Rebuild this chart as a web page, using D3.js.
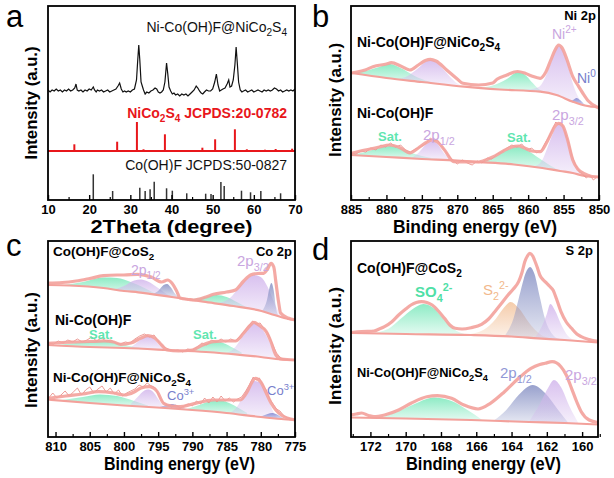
<!DOCTYPE html>
<html><head><meta charset="utf-8">
<script src="https://cdn.jsdelivr.net/npm/d3@7"></script>
<style>body{margin:0;background:#fff}svg{display:block}text{font-family:"Liberation Sans",Arial,sans-serif}</style>
</head><body><svg id="c" width="614" height="478"></svg>
<script>
// ---------------- Panel a : XRD ----------------
const aTicks = [10,20,30,40,50,60,70];
const aMinor = [15,25,35,45,55,65];
const xrdSample = [[10,110],[10.5,108],[11,110],[11.5,109],[12,111],[12.5,109],[13,110],[13.5,108],[14,110],[14.5,109],[15,111],[15.5,109],[16,110],[16.5,112],[16.8,116],[17.1,110],[17.5,109],[18,110],[18.5,108],[19,110],[19.5,109],[20,111],[20.5,110],[21,113],[21.3,110],[21.7,108],[22,110],[22.5,109],[23,110],[23.5,108],[24,109],[24.5,110],[25,108],[25.5,109],[26,110],[26.5,111],[27,114],[27.4,117],[27.8,111],[28.2,108],[28.6,109],[29,108],[29.5,109],[30,108],[30.5,110],[31,111],[31.5,120],[31.8,140],[32.05,155],[32.3,140],[32.6,118],[32.9,114],[33.2,110],[33.6,106],[34,108],[34.5,107],[35,109],[35.5,110],[36,112],[36.4,111],[36.8,108],[37.2,107],[37.6,108],[38,110],[38.4,118],[38.8,137],[39.1,126],[39.4,113],[39.8,109],[40.2,106],[40.6,107],[41,105],[41.5,106],[42,104],[42.5,106],[43,105],[43.5,106],[44,104],[44.5,106],[45,108],[45.5,110],[46,114],[46.4,112],[46.8,109],[47.2,107],[47.6,106],[48,108],[48.5,110],[49,109],[49.5,109],[50,111],[50.5,118],[50.9,126],[51.3,115],[51.7,109],[52.1,110],[52.5,111],[53,112],[53.5,116],[53.9,120],[54.2,113],[54.6,114],[55,120],[55.4,135],[55.7,153],[56,136],[56.3,118],[56.7,110],[57.1,108],[57.5,109],[58,110],[58.5,108],[59,109],[59.5,110],[60,108],[60.5,109],[61,110],[61.5,109],[62,108],[62.5,110],[63,109],[63.5,110],[64,109],[64.5,110],[65,112],[65.5,111],[66,109],[66.5,110],[67,108],[67.5,109],[68,110],[68.5,109],[69,110],[69.5,109],[70,111]];
const ncsOffset = 49;
const ncsTheta = [16.4,26.8,31.6,33.2,38.4,47.5,50.6,55.4,58.3,62.7,65.3,69.3];
const ncsInt   = [6.7,9.3,29,1.7,16.7,3.3,11.7,21.7,1.7,1.3,2,2.3];
const cohTheta = [21.0,25.7,32.3,33.6,34.8,35.8,38.8,40.2,43.7,48.3,49.6,52.0,52.8,57.0,59.2,61.7,66.5];
const cohInt   = [25.7,9,12.3,9,10.7,18.3,11.7,9.3,6.7,6.3,6,18,14,9.3,7.7,9,6.7];

// ---------------- Panel b : Ni 2p ----------------
const bTicks = [885,880,875,870,865,860,855,850];
const bMinor = [882.5,877.5,872.5,867.5,862.5,857.5,852.5];
const bTopBg  = [[885,127],[880,122],[875,118],[869,113.3],[864,110.5],[858.3,108.3],[856,105],[853.7,98.3],[852,94.5],[850.3,93],[850,93]];
const bTopEnv = [[885,127],[883,130],[881.9,133.3],[880,136],[879.3,137.3],[878,134],[876.7,130],[875.5,135],[874.5,139.5],[873.8,140.7],[873,139],[871.5,130],[870,121],[869.2,116.7],[867,115],[865,117],[864.4,120.7],[863,125],[861.5,128.5],[860.5,127],[859.5,124],[858.3,121.7],[857.5,128],[856.8,140],[856.2,150],[855.7,155],[855.2,152],[854.5,140],[853.7,123.3],[853,115],[852.3,107],[851.5,99],[850.3,93],[850,92]];
const bTopSat1 = [[885,127],[883,129],[881,133],[879.5,136],[878,132],[876,124],[874,118.5],[872.5,116.5]];
const bTopP12  = [[878.5,120],[877,124],[875.5,132],[874.5,138],[873.8,140],[873,138],[872,131],[871,123],[870,116.5],[869,113.3]];
const bTopSat2 = [[867,112],[865,114.5],[863,121],[861.5,127.5],[860.5,125.5],[859.5,118],[858.5,111],[857.5,107.5]];
const bTopNi2  = [[862,109.8],[860,110.5],[858.5,113],[857.5,124],[856.8,137],[856.2,149],[855.7,154],[855.2,151],[854.5,138],[853.8,119],[853,104],[852,95],[851,93]];
const bTopNi0  = [[854.5,100],[853.8,99.5],[853.2,102],[852.6,99.5],[852,95.5],[851.5,94]];
const bBotBg  = [[885,45],[880,43],[875,41],[870,39.5],[867.8,38.3],[862,35.5],[858,32],[855.5,29],[853.7,27],[852,24],[850,23]];
const bBotEnv = [[885,46.7],[883,50],[881,53],[879.6,55],[878,52],[876.7,47],[875.5,52],[874.5,57],[873.6,60],[872.8,58],[871.8,50],[870.5,38.3],[869,38],[867,38],[866.4,39],[865,43],[863.5,49],[862.3,53],[861.4,54],[860.5,52],[859.5,49],[858.3,48.3],[857.5,56],[856.8,66],[856.2,74],[855.7,76.7],[855.1,74],[854.5,62],[853.7,40],[853,31],[852,26],[851,23.5],[850,23]];
const bBotRaw = [[885,47],[884.3,46],[883.6,49],[882.9,48],[882.2,52],[881.5,50],[880.8,55],[880.1,53],[879.4,57],[878.7,53],[878,55],[877.3,50],[876.6,48],[875.9,51],[875.2,53],[874.5,56],[873.8,62],[873.3,59],[872.8,60],[872.1,53],[871.4,46],[870.7,40],[870,36],[869.3,40],[868.6,37],[867.9,35],[867.2,39],[866.5,37],[865.8,42],[865.1,41],[864.4,46],[863.7,48],[863,52],[862.3,55],[861.6,53],[860.9,56],[860.2,50],[859.5,52],[858.8,47],[858.1,50],[857.6,57],[857.1,63],[856.6,70],[856.1,78],[855.7,75],[855.3,78],[854.8,68],[854.3,58],[853.8,44],[853.3,35],[852.8,29],[852.3,26],[851.8,22],[851.3,25],[850.8,20],[850.3,23],[850,22]];
const bBotSat1 = [[885,45.5],[883,48],[881,52],[879.5,54],[878,51.5],[876,46],[874,42.5],[872.5,40.5]];
const bBotP12  = [[876.5,42],[875.5,47],[874.5,55],[873.6,59],[872.8,56],[872,48],[871,41],[870,39.3]];
const bBotSat2 = [[867.5,38.3],[865.5,41],[863.5,48],[862,52.5],[861.3,53],[860,49],[858.5,42],[857,35],[856,31]];
const bBotP32  = [[859,34],[858,40],[857.3,52],[856.6,65],[856,74],[855.6,76],[855.1,73],[854.5,61],[853.8,42],[853,30],[852,25]];

// ---------------- Panel c : Co 2p ----------------
const cTicks = [810,805,800,795,790,785,780,775];
const cMinor = [807.5,802.5,797.5,792.5,787.5,782.5,777.5];
const cTopBg  = [[811.1,152],[808,151.5],[803,149],[800,146],[797.9,144.7],[793,140],[788.4,135.3],[784,131],[779.9,126],[778,122],[776,118],[775,117]];
const cTopEnv = [[811.1,154],[809,154.5],[807,156],[805,158.5],[803,161.3],[801,162],[800,162],[798,162.7],[796,160],[794.5,155],[793.6,157],[793,154],[792.3,146],[791.8,139],[790.5,137.5],[789.8,137],[788,140],[786.9,142.7],[785,145],[783.7,147],[782.5,156],[781.5,162],[780.5,163.5],[779.6,163.7],[779,168],[778.5,173.7],[778.1,170],[777.8,155.3],[777.4,135],[777.1,124],[776,119],[775,117]];
const cTopSat1 = [[809,151.7],[806,155],[803,159.5],[801,159],[799,155],[797,149],[795,142]];
const cTopP12  = [[801.5,147.5],[800,151],[798.5,156.5],[797.5,157.5],[796.5,155.5],[795,149],[793.5,142],[792.5,139.5]];
const cTopS1   = [[795.8,143],[795,146],[794.2,152],[793.7,153],[793.2,150],[792.5,143],[791.8,139]];
const cTopSat2 = [[790.5,137.5],[788.5,139.5],[786.5,142],[785,140],[783.5,135],[782,129.5]];
const cTopP32  = [[786.5,133.5],[784.5,139],[783,151],[781.8,159.5],[781,162],[780,160],[779,150],[778,134],[777,120]];
const cTopS2   = [[779.8,126],[779.1,137],[778.7,150],[778.45,154],[778.1,146],[777.8,130],[777.4,121]];
const cMidBg  = [[811.1,92],[805,90],[800,89],[793.7,87],[788,85],[783.7,82.7],[780,80],[777,77.5],[775,77]];
const cMidEnv = [[811.1,93.7],[809,94.5],[807,95],[805,95.5],[802.9,96],[801.5,95],[800.5,92.7],[799,94],[797.5,99],[796.5,101.3],[795.5,99],[794.5,92],[793.7,87],[792,86],[790,87],[788.5,92],[786.9,95.3],[785,96],[783.7,96],[782.5,104],[781.5,112],[781,114.7],[780.3,112],[779.2,105.3],[778.5,95],[777.8,82],[777,78],[775,77]];
const cMidRaw = [[811,94],[810.3,93],[809.6,96],[808.9,94],[808.2,97],[807.5,95],[806.8,98],[806.1,95],[805.4,97],[804.7,100],[804,96],[803.3,99],[802.6,96],[801.9,97],[801.2,94],[800.5,93],[799.8,95],[799.1,94],[798.4,98],[797.7,101],[797,103],[796.3,100],[795.6,102],[794.9,95],[794.2,90],[793.5,88],[792.8,86],[792.1,87],[791.4,85],[790.7,88],[790,87],[789.3,90],[788.6,94],[787.9,92],[787.2,97],[786.5,95],[785.8,98],[785.1,95],[784.4,98],[783.7,96],[783,101],[782.4,106],[781.8,111],[781.2,116],[780.7,113],[780.1,114],[779.5,108],[778.9,103],[778.3,93],[777.7,84],[777.1,79],[776.5,78],[775.8,77],[775,77]];
const cMidSat1 = [[810,91.8],[807,94],[804,96],[802.5,96.5],[800.5,93],[798.5,90],[797,88.5]];
const cMidP12  = [[799,89.5],[798,95],[797,100],[796.4,101],[795.7,99],[795,93],[794,88],[793.5,87]];
const cMidSat2 = [[790.5,86],[789,90],[787.5,94.5],[786.5,96],[785.5,94],[784,89],[782.8,84.5]];
const cMidP32  = [[785,84],[784,88],[783,97],[782,108],[781.2,114],[780.5,113],[779.5,105],[778.5,92],[777.5,79]];
const cBotBg  = [[811.1,37.5],[805,34],[800,31.5],[794,29],[790,27],[785,24],[780,20],[777,18],[775,17]];
const cBotEnv = [[811.1,38.7],[808.5,41],[806,43],[803.7,45.3],[801.5,44],[800,42],[798.5,45],[797.5,49],[796.3,50.3],[795.2,46],[794.2,33.7],[793,31],[791.8,30.3],[790,33],[788,36],[786.9,37],[785,37],[783,37],[782,45],[781.2,56],[780.8,58.7],[780,55],[779.2,44],[778.5,34],[777.8,27],[777,22],[775,17]];
const cBotRaw = [[811,39],[810.4,44],[809.8,39],[809.2,42],[808.6,46],[808,41],[807.4,45],[806.8,49],[806.2,42],[805.6,47],[805,50],[804.4,44],[803.8,48],[803.2,51],[802.6,45],[802,49],[801.4,43],[800.8,47],[800.2,41],[799.6,44],[799,46],[798.4,48],[797.8,52],[797.2,50],[796.6,54],[796,51],[795.4,49],[794.8,40],[794.2,34],[793.6,32],[793,30],[792.4,32],[791.8,29],[791.2,31],[790.6,33],[790,31],[789.4,36],[788.8,33],[788.2,39],[787.6,34],[787,40],[786.4,35],[785.8,41],[785.2,36],[784.6,39],[784,35],[783.4,38],[782.8,40],[782.2,46],[781.6,53],[781.1,60],[780.7,57],[780.2,59],[779.7,52],[779.2,47],[778.7,38],[778.2,33],[777.7,28],[777.2,26],[776.6,21],[776,19],[775.4,18],[775,17]];
const cBotSat1 = [[809,37],[806,40],[803.5,42.5],[801,41],[798.5,36],[796.5,31.5]];
const cBotP12  = [[799,33],[798,40],[797,46.5],[796.5,47.5],[795.8,45.5],[795,38],[794.2,30]];
const cBotCo3a = [[795,29.5],[794,31.5],[793,33],[792,31],[791,28]];
const cBotSat2 = [[791,27.5],[789,32],[787,36.5],[786.2,37],[785,35],[783.5,30],[782,24]];
const cBotP32  = [[784.5,24],[783.5,30],[782.5,42],[781.5,53],[781,56],[780.3,55],[779.5,47],[778.7,34],[778,23],[777.5,19]];
const cBotCo3b = [[780,20.5],[779,23],[778.3,24],[777.5,22],[776.5,17.8]];

// ---------------- Panel d : S 2p ----------------
const dTicks = [172,170,168,166,164,162,160];
const dMinor = [173,171,169,167,165,163,161,159];
const dTopBg  = [[173.1,104],[170,103],[166.3,102],[164,100.5],[162.5,98.7],[161,97],[159.1,94.5]];
const dTopEnv = [[173.1,104.5],[172.5,105.5],[171.8,106],[171.5,108],[171.2,110.3],[170.8,115],[170.4,122],[170,128],[169.7,132],[169.4,134.5],[169.1,135.3],[168.8,134.5],[168.5,132],[168.1,125],[167.8,118.7],[167.5,112],[167.2,108.7],[166.8,108],[166.3,109.3],[165.7,112.7],[165.3,118],[164.95,125.3],[164.6,133],[164.2,142],[163.9,148],[163.6,155.3],[163.4,165],[163.25,175.3],[163.1,181],[162.96,183.7],[162.8,181],[162.7,177],[162.55,170],[162.4,162],[162.2,157],[162.0,153.7],[161.8,150],[161.65,147],[161.45,138],[161.2,125.3],[160.9,115],[160.6,108.7],[160.3,103],[160.05,100.3],[159.6,97.5],[159.1,95.5]];
const dTopSO4 = [[172,103.8],[171,108],[170.3,118],[169.6,128],[169,133],[168.5,130],[167.8,117],[167.2,107],[166.5,102.3]];
const dTopS2  = [[166.6,102.3],[165.6,107],[164.9,118],[164.4,130],[164.05,135],[163.6,129],[163,114],[162.4,103],[161.8,98.5]];
const dTopP12 = [[164.4,101],[163.9,118],[163.5,145],[163.2,164],[162.95,170],[162.7,163],[162.4,140],[162.1,118],[161.7,103],[161.3,98]];
const dTopP32 = [[162.7,99],[162.3,110],[162,123],[161.8,133],[161.55,127],[161.2,113],[160.8,101],[160.4,97]];
const dBotBg  = [[173.1,19.5],[170,18.5],[166.3,17],[163,15],[161,14],[159.1,12.5]];
const dBotEnv = [[173.1,22],[172.8,23],[172.5,24],[172.1,21.5],[171.8,20.3],[171.2,22],[170.4,27],[169.7,33.7],[168.8,40.3],[168.2,41.3],[167.4,38.7],[166.7,32],[165.9,28],[165.2,33.7],[164.4,45.3],[163.6,58.7],[162.9,68.7],[162.4,72.5],[162.1,73.7],[161.7,75.3],[161.2,70.3],[160.9,62],[160.6,48.7],[160.3,35],[160.05,25.3],[159.6,17],[159.1,14.5]];
const dBotSO4 = [[171.5,19],[170.5,25],[169.5,33],[168.4,39.5],[167.4,36],[166.5,27],[165.7,17.5]];
const dBotP12 = [[165,16.5],[164.3,27],[163.6,42],[162.8,52],[162.1,44],[161.4,28],[160.8,14.5]];
const dBotP32 = [[163,15.5],[162.4,33],[161.9,50],[161.6,57],[161.2,50],[160.7,30],[160.2,13.5]];

// ---------------- drawing ----------------
const svg = d3.select("#c");
const defs = svg.append("defs");
const COL = {green:"#7ae8bb", purple:"#d2b6ec", blue:"#7c84d0", slate:"#8690c4", orange:"#f3c39c"};
Object.entries(COL).forEach(([k,c])=>{
  const lg = defs.append("linearGradient").attr("id","g-"+k).attr("x1",0).attr("y1",0).attr("x2",0).attr("y2",1);
  lg.append("stop").attr("offset","0%").attr("stop-color",c).attr("stop-opacity",0.85);
  lg.append("stop").attr("offset","100%").attr("stop-color",c).attr("stop-opacity",0.2);
});
const ENV = "#f3a19b", RAW = "#e98a84";

function rich(g, x, y, str, o) {
  const size = o.size || 14;
  const t = g.append("text").attr("x",x).attr("y",y).attr("font-size",size)
    .attr("font-weight",o.weight||"bold").attr("fill",o.fill||"#000").attr("text-anchor",o.anchor||"start");
  const parts = str.split(/([_^]\{[^}]*\})/).filter(s=>s.length);
  let shift = 0;
  parts.forEach(p=>{
    let s=p, dy=0, fs=size;
    if (p.startsWith("_{")) { s=p.slice(2,-1); dy=size*0.3; fs=size*0.72; }
    else if (p.startsWith("^{")) { s=p.slice(2,-1); dy=-size*0.42; fs=size*0.72; }
    t.append("tspan").attr("dy", dy - shift).attr("font-size", fs).text(s);
    shift = dy;
  });
  return t;
}

let clipN = 0;
function makePanel(c) {
  const x = d3.scaleLinear().domain(c.dom).range([c.x0,c.x1]);
  const y = d3.scaleLinear().domain([0,c.y1-c.y0]).range([c.y1,c.y0]);
  const g = svg.append("g");
  const id = "clip"+(clipN++);
  defs.append("clipPath").attr("id",id).append("rect").attr("x",c.x0).attr("y",c.y0).attr("width",c.x1-c.x0).attr("height",c.y1-c.y0);
  const plot = g.append("g").attr("clip-path",`url(#${id})`);
  return {x,y,g,plot,c};
}
function finishPanel(P, ticks, minor, title, titleLen, ytitleY, ytitleX, ylen, letter, lx, ly) {
  const {x,g,c} = P;
  const ax = g.append("g").attr("transform",`translate(0,${c.y1})`)
    .call(d3.axisBottom(x).tickValues(ticks).tickSize(-5).tickPadding(5).tickFormat(d3.format("d")));
  ax.select(".domain").remove();
  ax.selectAll("line").attr("stroke","#000").attr("stroke-width",1.4);
  ax.selectAll("text").attr("font-size",13).attr("font-weight","bold").attr("fill","#000")
    .attr("font-family",'"Liberation Sans",Arial,sans-serif');
  const mx = g.append("g").attr("transform",`translate(0,${c.y1})`)
    .call(d3.axisBottom(x).tickValues(minor).tickSize(-3).tickFormat(""));
  mx.select(".domain").remove();
  mx.selectAll("text").remove();
  mx.selectAll("line").attr("stroke","#000").attr("stroke-width",1.2);
  g.append("rect").attr("x",c.x0).attr("y",c.y0).attr("width",c.x1-c.x0).attr("height",c.y1-c.y0)
    .attr("fill","none").attr("stroke","#000").attr("stroke-width",1.8);
  g.append("text").attr("x",(c.x0+c.x1)/2 + (c.tdx||0)).attr("y",c.y1+33).attr("text-anchor","middle")
    .attr("font-size",17.5).attr("font-weight","bold").attr("textLength",titleLen).attr("lengthAdjust","spacingAndGlyphs").text(title);
  g.append("text").attr("transform",`translate(${ytitleX},${ytitleY}) rotate(-90)`).attr("text-anchor","middle")
    .attr("font-size",17).attr("font-weight","bold").attr("textLength",ylen).attr("lengthAdjust","spacingAndGlyphs").text("Intensity (a.u.)");
  g.append("text").attr("x",lx).attr("y",ly).attr("font-size",31).text(letter);
}
function lineGen(P, curve) {
  return d3.line().x(d=>P.x(d[0])).y(d=>P.y(d[1])).curve(curve||d3.curveMonotoneX);
}
function spectrum(P, bg, comps, env, raw) {
  const bgAt = d3.scaleLinear().domain(bg.map(d=>d[0])).range(bg.map(d=>d[1])).clamp(true);
  comps.forEach(([pts,col])=>{
    const area = d3.area().x(d=>P.x(d[0])).y0(d=>P.y(bgAt(d[0]))).y1(d=>P.y(Math.max(d[1],bgAt(d[0])))).curve(d3.curveMonotoneX);
    P.plot.append("path").attr("d",area(pts)).attr("fill",`url(#g-${col})`).attr("stroke","none");
  });
  P.plot.append("path").attr("d",lineGen(P)(bg)).attr("fill","none").attr("stroke",ENV).attr("stroke-width",2.2);
  if (raw) P.plot.append("path").attr("d",lineGen(P,d3.curveLinear)(raw)).attr("fill","none").attr("stroke",RAW).attr("stroke-width",1).attr("opacity",0.85);
  P.plot.append("path").attr("d",lineGen(P)(env)).attr("fill","none").attr("stroke",ENV).attr("stroke-width",3.2).attr("opacity",0.9);
}

// ---- Panel a
const A = makePanel({x0:48,x1:295,y0:6,y1:200,dom:[10,70]});
A.plot.append("path").attr("d",lineGen(A,d3.curveLinear)(xrdSample)).attr("fill","none").attr("stroke","#111").attr("stroke-width",1.2);
A.plot.append("line").attr("x1",A.x(10)).attr("x2",A.x(70)).attr("y1",A.y(ncsOffset)).attr("y2",A.y(ncsOffset)).attr("stroke","#e8161b").attr("stroke-width",2);
A.plot.selectAll(".ncs").data(ncsTheta.map((t,i)=>[t,ncsInt[i]])).join("line")
  .attr("x1",d=>A.x(d[0])).attr("x2",d=>A.x(d[0])).attr("y1",A.y(ncsOffset)).attr("y2",d=>A.y(ncsOffset+d[1]))
  .attr("stroke","#e8161b").attr("stroke-width",2);
A.plot.selectAll(".coh").data(cohTheta.map((t,i)=>[t,cohInt[i]])).join("line")
  .attr("x1",d=>A.x(d[0])).attr("x2",d=>A.x(d[0])).attr("y1",A.y(0)).attr("y2",d=>A.y(d[1]))
  .attr("stroke","#333").attr("stroke-width",1.5);
rich(A.g,287,32,"Ni-Co(OH)F@NiCo_{2}S_{4}",{size:14,weight:"normal",fill:"#111",anchor:"end"});
rich(A.g,287,118,"NiCo_{2}S_{4} JCPDS:20-0782",{size:14,weight:"bold",fill:"#e8161b",anchor:"end"});
rich(A.g,287,170,"Co(OH)F JCPDS:50-0827",{size:14,weight:"normal",fill:"#111",anchor:"end"});
finishPanel(A,aTicks,aMinor,"2Theta (degree)",162,103,36.5,113,"a",6,27);

// ---- Panel b
const B = makePanel({x0:351,x1:599,y0:6,y1:200,dom:[885,850]});
spectrum(B,bTopBg,[[bTopSat1,"green"],[bTopSat2,"green"],[bTopP12,"purple"],[bTopNi2,"purple"],[bTopNi0,"blue"]],bTopEnv);
spectrum(B,bBotBg,[[bBotSat1,"green"],[bBotSat2,"green"],[bBotP12,"purple"],[bBotP32,"purple"]],bBotEnv,bBotRaw);
const LAV="#c9a6e0", GRN="#5fe6b0", BLU="#7880cc";
rich(B.g,596,20,"Ni 2p",{size:13,anchor:"end"});
rich(B.g,357,47,"Ni-Co(OH)F@NiCo_{2}S_{4}",{size:14});
rich(B.g,552,39,"Ni^{2+}",{size:14,fill:LAV,weight:"normal"});
rich(B.g,577,83,"Ni^{0}",{size:14,fill:BLU,weight:"normal"});
rich(B.g,357,118,"Ni-Co(OH)F",{size:14});
rich(B.g,552,120,"2p_{3/2}",{size:15,fill:LAV,weight:"normal"});
rich(B.g,378,141,"Sat.",{size:13,fill:GRN});
rich(B.g,507,142,"Sat.",{size:13,fill:GRN});
rich(B.g,423,140,"2p_{1/2}",{size:15,fill:LAV,weight:"normal"});
finishPanel(B,bTicks,bMinor,"Binding energy (eV)",164,100,340.5,114,"b",312,27);

// ---- Panel c
const C = makePanel({x0:48,x1:295,y0:241,y1:437,dom:[811.1,775],tdx:8});
spectrum(C,cTopBg,[[cTopSat1,"green"],[cTopSat2,"green"],[cTopP12,"purple"],[cTopP32,"purple"],[cTopS1,"slate"],[cTopS2,"slate"]],cTopEnv);
spectrum(C,cMidBg,[[cMidSat1,"green"],[cMidSat2,"green"],[cMidP12,"purple"],[cMidP32,"purple"]],cMidEnv,cMidRaw);
spectrum(C,cBotBg,[[cBotSat1,"green"],[cBotSat2,"green"],[cBotP12,"purple"],[cBotP32,"purple"],[cBotCo3a,"blue"],[cBotCo3b,"blue"]],cBotEnv,cBotRaw);
rich(C.g,53,256,"Co(OH)F@CoS_{2}",{size:13.5});
rich(C.g,292,256,"Co 2p",{size:13,anchor:"end"});
rich(C.g,131,275,"2p_{1/2}",{size:14,fill:LAV,weight:"normal"});
rich(C.g,237,266,"2p_{3/2}",{size:15,fill:LAV,weight:"normal"});
rich(C.g,55,325,"Ni-Co(OH)F",{size:14});
rich(C.g,89,339,"Sat.",{size:13,fill:GRN});
rich(C.g,193,339,"Sat.",{size:13,fill:GRN});
rich(C.g,53,382,"Ni-Co(OH)F@NiCo_{2}S_{4}",{size:13.5});
rich(C.g,167,400,"Co^{3+}",{size:13,fill:BLU,weight:"normal"});
rich(C.g,267,395,"Co^{3+}",{size:13,fill:BLU,weight:"normal"});
finishPanel(C,cTicks,cMinor,"Binding energy (eV)",151,350,36.5,116,"c",6,256);

// ---- Panel d
const D = makePanel({x0:351,x1:598,y0:241,y1:437,dom:[173.1,159.1],tdx:9});
spectrum(D,dTopBg,[[dTopSO4,"green"],[dTopS2,"orange"],[dTopP12,"slate"],[dTopP32,"purple"]],dTopEnv);
spectrum(D,dBotBg,[[dBotSO4,"green"],[dBotP12,"slate"],[dBotP32,"purple"]],dBotEnv);
rich(D.g,593,255,"S 2p",{size:13,anchor:"end"});
rich(D.g,357,273,"Co(OH)F@CoS_{2}",{size:14});
rich(D.g,415,297,"SO_{4}^{2-}",{size:15,fill:"#4fe0a6"});
rich(D.g,483,295,"S_{2}^{2-}",{size:15,fill:"#f2b98c",weight:"normal"});
rich(D.g,357,377,"Ni-Co(OH)F@NiCo_{2}S_{4}",{size:12.8});
rich(D.g,500,378,"2p_{1/2}",{size:15,fill:"#9198d6",weight:"normal"});
rich(D.g,565,380,"2p_{3/2}",{size:15,fill:LAV,weight:"normal"});
finishPanel(D,dTicks,dMinor,"Binding energy (eV)",155,346,340.5,118,"d",312,260);
</script></body></html>
